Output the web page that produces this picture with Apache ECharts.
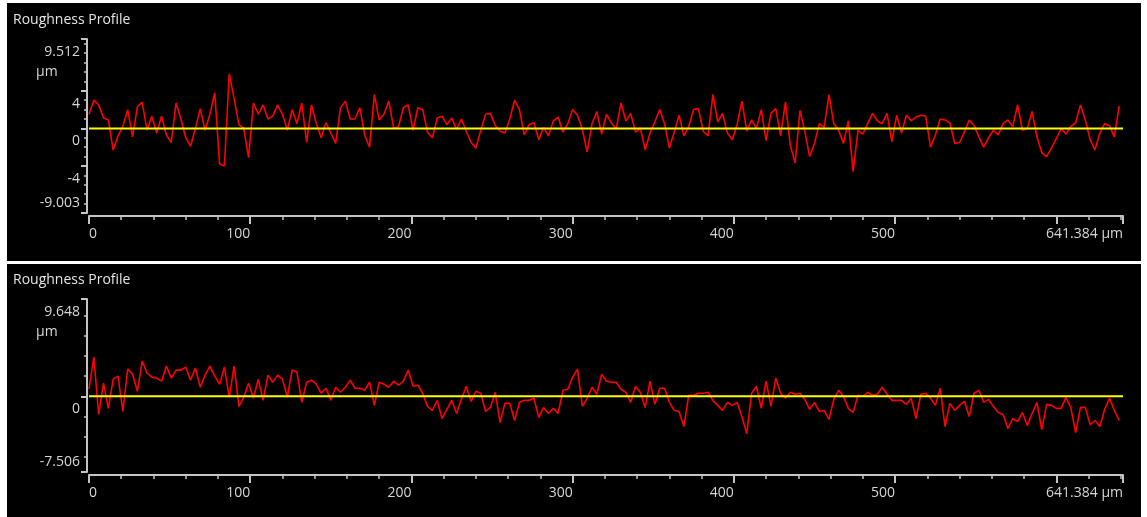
<!DOCTYPE html>
<html>
<head>
<meta charset="utf-8">
<script src="https://cdn.jsdelivr.net/npm/echarts@6/dist/echarts.min.js"></script>
<style>
  html, body { margin: 0; padding: 0; background: #fff; }
  #chart { width: 1147px; height: 517px; }
</style>
</head>
<body>
<div id="chart"></div>
<script>
// profile length and sampling pitch (µm)
const xMax = 641.384
const pitch = 3

const xMajorTicks = [0, 100, 200, 300, 400, 500, 600, 641.384]
const xLabels = [0, 100, 200, 300, 400, 500, 641.384]
const xMinorTicks = [0, 20, 40, 60, 80, 100, 120, 140, 160, 180, 200, 220, 240, 260, 280, 300, 320,
  340, 360, 380, 400, 420, 440, 460, 480, 500, 520, 540, 560, 580, 600, 620, 640]

const topRange = [-9.003, 9.512]
const topYMajor = [-9.003, -4, 0, 4, 9.512]
const topYMinor = [-9, -8, -7, -6, -5, -4, -3, -2, -1, 0, 1, 2, 3, 4, 5, 6, 7, 8, 9]
const topMean = 0

const bottomRange = [-7.506, 9.648]
const bottomYMajor = [-7.506, 0, 9.648]
const bottomYMinor = [-6, -4, -2, 2, 4, 6, 8]
const bottomMean = 0

// heights in µm, one per pitch step
const topProfile = [
  1.5, 3.0, 2.5, 1.1, 0.9, -2.3, -0.8, 0.2, 2.0, -0.9,
  2.3, 2.8, -0.2, 1.3, -0.5, 1.3, -0.7, -1.5, 2.7, 1.0,
  -1.0, -1.9, 0.0, 2.1, -0.2, 1.5, 3.8, -3.8, -4.0, 5.8,
  3.2, 0.4, 0.0, -3.1, 2.7, 1.5, 2.5, 1.0, 1.3, 2.5,
  1.5, -0.2, 2.0, 0.5, 2.7, -1.5, 2.5, 0.5, -1.0, 0.6,
  -0.5, -1.6, 2.2, 2.9, 1.0, 1.0, 2.2, -0.7, -2.0, 3.6,
  0.9, 1.5, 2.9, 0.0, 0.2, 2.2, 2.5, -0.2, 2.2, 2.0,
  -0.4, -1.0, 1.1, 1.3, 0.4, 1.1, -0.1, 1.0, -0.3, -1.5,
  -2.1, -0.2, 1.5, 1.6, 0.3, -0.3, -0.5, 1.0, 3.0, 2.0,
  -0.7, 0.4, 0.6, -1.2, 0.1, -0.8, 0.8, 1.2, -0.4, 0.5,
  2.0, 1.4, -0.1, -2.5, 0.5, 1.8, -0.6, 1.5, 0.6, -0.1,
  2.7, 0.8, 1.6, -0.4, 0.0, -2.3, -0.5, 0.7, 2.0, 0.5,
  -2.1, -0.4, 1.4, -0.8, 0.2, 2.0, 2.1, -0.3, -0.8, 3.6,
  0.7, 1.6, -0.5, -1.2, 0.4, 2.9, -0.3, 0.9, 0.0, 2.0,
  -1.3, 1.6, 2.1, -0.8, 2.8, -1.8, -3.7, 1.9, -0.3, -3.0,
  -1.6, 0.5, 0.1, 3.6, 0.5, -0.2, -1.6, 0.8, -4.6, -0.2,
  -0.6, 0.5, 1.6, 0.8, 0.5, 1.6, -1.4, 1.4, -0.5, 1.4,
  0.8, 1.2, 1.4, 1.3, -2.0, -0.7, 1.0, 0.9, 0.6, -1.6,
  -1.5, -0.4, 0.9, 0.3, -0.9, -2.0, -1.0, -0.2, -0.7, 0.5,
  0.9, 0.2, 2.5, -0.2, 0.0, 1.8, -0.9, -2.6, -3.0, -2.1,
  -1.1, 0.0, -0.6, 0.2, 0.6, 2.5, 0.9, -1.2, -2.3, -0.5,
  0.5, 0.3, -0.9, 2.4
]

const bottomProfile = [
  0.7, 3.9, -1.8, 1.3, -1.2, 1.7, 2.0, -1.5, 2.7, 2.2,
  0.5, 3.5, 2.3, 1.9, 1.8, 1.5, 3.0, 1.8, 2.6, 2.6,
  2.9, 1.6, 2.8, 0.9, 2.1, 3.0, 2.0, 1.2, 2.9, -0.1,
  3.0, -1.0, -0.1, 1.3, -0.2, 1.7, -0.4, 2.1, 1.4, 2.1,
  1.7, -0.1, 2.6, 2.4, -0.6, 1.4, 1.6, 1.2, 0.3, 0.8,
  -0.4, 0.9, 0.4, 0.9, 1.6, 0.8, 0.8, 0.6, 1.4, -0.9,
  1.4, 1.2, 0.9, 1.5, 1.1, 1.5, 2.6, 1.0, 1.1, 0.3,
  -1.0, -1.4, -0.4, -2.2, -1.3, -0.4, -1.7, -0.3, 1.0, -0.5,
  0.5, 0.3, -1.5, -1.1, 0.4, -2.6, -0.7, -0.7, -2.4, -0.6,
  -0.4, -0.4, -0.2, -2.1, -1.1, -1.7, -1.2, -1.7, 0.6, 0.7,
  1.9, 2.7, -1.0, -0.2, 0.9, 0.2, 2.2, 1.5, 1.4, 1.4,
  0.7, 0.4, -0.6, 1.0, 0.4, -1.1, 1.5, -0.8, 0.8, 0.8,
  -0.6, -1.4, -1.5, -3.0, 0.1, 0.1, 0.3, 0.3, 0.4, -0.4,
  -0.9, -1.4, -0.6, -0.9, -0.6, -2.0, -3.7, 0.3, 1.0, -1.2,
  1.5, -1.0, 1.8, 0.3, -0.2, 0.4, 0.2, 0.3, -0.3, -1.3,
  -0.6, -1.5, -1.4, -2.3, -0.3, 0.6, 0.0, -1.2, -1.6, 0.1,
  0.0, 0.4, 0.1, 0.2, 0.9, 0.2, -0.4, -0.4, -0.4, -0.8,
  -0.2, -2.2, 0.2, 0.3, -0.2, -0.9, 0.8, -3.0, -0.7, -1.4,
  -0.9, -0.5, -2.0, 0.3, 0.6, -0.6, -0.3, -1.0, -1.6, -1.8,
  -3.2, -2.2, -2.5, -1.6, -2.9, -1.7, -0.6, -3.3, -0.8, -0.9,
  -1.2, -1.2, -0.1, -1.1, -3.6, -1.1, -1.1, -2.8, -2.4, -3.0,
  -1.3, -0.2, -1.4, -2.4
]

// 样式
const axisColor = '#c4c4c4'
const labelColor = '#d6d6d6'
const font = '"Open Sans", "Noto Sans", sans-serif'

function toPoints(values) {
  return values.map((v, i) => [i * pitch, v])
}

function xAxesFor(grid) {
  return [
    {
      gridIndex: grid, type: 'value', min: 0, max: xMax, position: 'bottom', offset: 3,
      axisLine: { show: true, onZero: false, lineStyle: { color: axisColor, width: 2 } },
      axisTick: { show: true, customValues: xMinorTicks, length: 4, lineStyle: { color: axisColor, width: 1.5 } },
      axisLabel: { show: false },
      splitLine: { show: false }
    },
    {
      gridIndex: grid, type: 'value', min: 0, max: xMax, position: 'bottom', offset: 3,
      axisLine: { show: false, onZero: false },
      axisTick: { show: true, customValues: xMajorTicks, length: 8, lineStyle: { color: axisColor, width: 2 } },
      axisLabel: {
        customValues: xLabels, color: labelColor, fontSize: 14, fontFamily: font, margin: 11,
        align: 'right', alignMinLabel: 'left', alignMaxLabel: 'right',
        showMinLabel: true, showMaxLabel: true, hideOverlap: false,
        formatter: v => Math.abs(v - xMax) < 1e-6 ? xMax + ' µm' : String(v)
      },
      splitLine: { show: false }
    }
  ]
}

function yAxesFor(grid, range, majors, minors) {
  const richBase = { color: labelColor, fontSize: 14, fontFamily: font, lineHeight: 20, width: 44 }
  return [
    {
      gridIndex: grid, type: 'value', min: range[0], max: range[1], position: 'left', offset: 2,
      axisLine: { show: true, onZero: false, lineStyle: { color: axisColor, width: 2 } },
      axisTick: { show: true, customValues: minors, length: 3, lineStyle: { color: axisColor, width: 1.5 } },
      axisLabel: { show: false },
      splitLine: { show: false }
    },
    {
      gridIndex: grid, type: 'value', min: range[0], max: range[1], position: 'left', offset: 2,
      axisLine: { show: false, onZero: false },
      axisTick: { show: true, customValues: majors, length: 6, lineStyle: { color: axisColor, width: 2 } },
      axisLabel: {
        customValues: majors, color: labelColor, fontSize: 14, fontFamily: font, margin: 7,
        lineHeight: 20, padding: [3, 0, 0, 0],
        verticalAlign: 'top', verticalAlignMinLabel: 'bottom', verticalAlignMaxLabel: 'top',
        formatter: v => v === range[1] ? '{v|' + v + '}\n{u|µm}' : String(v),
        rich: {
          v: Object.assign({ align: 'right' }, richBase),
          u: Object.assign({ align: 'left' }, richBase)
        }
      },
      splitLine: { show: false }
    }
  ]
}

function profileSeries(axisIdx, values) {
  return {
    type: 'line', xAxisIndex: axisIdx, yAxisIndex: axisIdx,
    data: toPoints(values), symbol: 'none', silent: true, z: 2,
    lineStyle: { color: '#ff0000', width: 1.6 }
  }
}

function meanSeries(axisIdx, level) {
  return {
    type: 'line', xAxisIndex: axisIdx, yAxisIndex: axisIdx,
    data: [[0, level], [xMax, level]], symbol: 'none', silent: true, z: 3,
    lineStyle: { color: '#ffff00', width: 2 }
  }
}

const chart = echarts.init(document.getElementById('chart'), null, { renderer: 'canvas' })

chart.setOption({
  animation: false,
  backgroundColor: '#ffffff',
  graphic: [
    { type: 'rect', z: -10, shape: { x: 7, y: 3, width: 1134, height: 258 }, style: { fill: '#000' } },
    { type: 'rect', z: -10, shape: { x: 7, y: 264, width: 1134, height: 253 }, style: { fill: '#000' } }
  ],
  title: [
    { text: 'Roughness Profile', left: 13, top: 13, padding: 0,
      textStyle: { color: '#e4e4e4', fontSize: 14, fontWeight: 'normal', fontFamily: font } },
    { text: 'Roughness Profile', left: 13, top: 273, padding: 0,
      textStyle: { color: '#e4e4e4', fontSize: 14, fontWeight: 'normal', fontFamily: font } }
  ],
  grid: [
    { left: 89, top: 39, width: 1034, height: 174 },
    { left: 89, top: 299, width: 1034, height: 173 }
  ],
  xAxis: [...xAxesFor(0), ...xAxesFor(1)],
  yAxis: [
    ...yAxesFor(0, topRange, topYMajor, topYMinor),
    ...yAxesFor(1, bottomRange, bottomYMajor, bottomYMinor)
  ],
  series: [
    profileSeries(0, topProfile),
    meanSeries(0, topMean),
    profileSeries(2, bottomProfile),
    meanSeries(2, bottomMean)
  ]
})
</script>
</body>
</html>
